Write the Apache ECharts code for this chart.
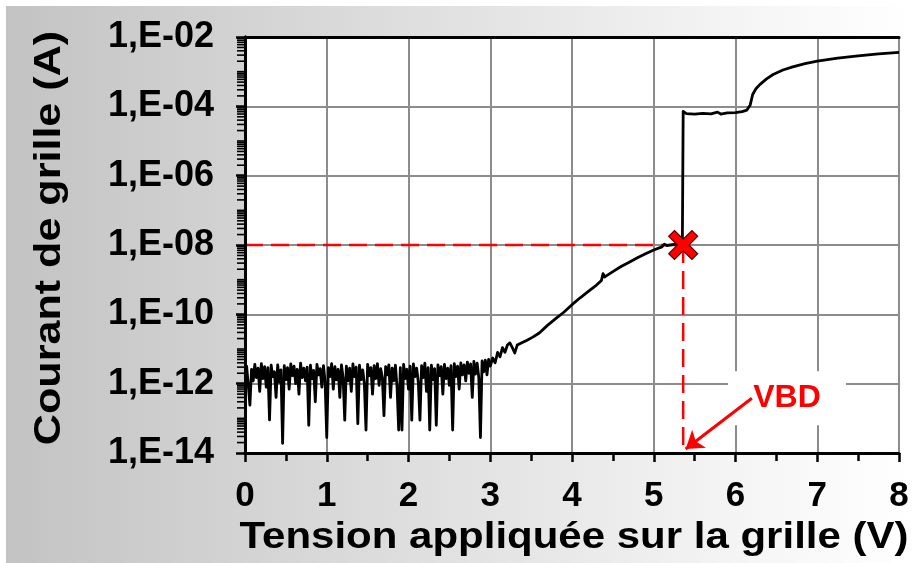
<!DOCTYPE html>
<html>
<head>
<meta charset="utf-8">
<script src="https://cdn.jsdelivr.net/npm/echarts@6.0.0/dist/echarts.min.js"></script>
<style>html,body{margin:0;padding:0;background:#fff;}#chart{width:912px;height:563px;}</style>
</head>
<body>
<div id="chart"></div>
<script>
// ---- data ----
const xTickLabels = ['0','1','2','3','4','5','6','7','8'];
const yTickLabels = ['1,E-14','1,E-12','1,E-10','1,E-08','1,E-06','1,E-04','1,E-02'];
const yTickExponents = [-14,-12,-10,-8,-6,-4,-2];

const noiseVoltage = [0.00,0.02,0.04,0.06,0.08,0.10,0.12,0.14,0.16,0.18,0.20,0.22,0.24,0.26,0.28,0.30,0.32,0.34,0.36,0.38,0.40,0.42,0.44,0.46,0.48,0.50,0.52,0.54,0.56,0.58,0.60,0.62,0.64,0.66,0.68,0.70,0.72,0.74,0.76,0.78,0.80,0.82,0.84,0.86,0.88,0.90,0.92,0.94,0.96,0.98,1.00,1.02,1.04,1.06,1.08,1.10,1.12,1.14,1.16,1.18,1.20,1.22,1.24,1.26,1.28,1.30,1.32,1.34,1.36,1.38,1.40,1.42,1.44,1.46,1.48,1.50,1.52,1.54,1.56,1.58,1.60,1.62,1.64,1.66,1.68,1.70,1.72,1.74,1.76,1.78,1.80,1.82,1.84,1.86,1.88,1.90,1.92,1.94,1.96,1.98,2.00,2.02,2.04,2.06,2.08,2.10,2.12,2.14,2.16,2.18,2.20,2.22,2.24,2.26,2.28,2.30,2.32,2.34,2.36,2.38,2.40,2.42,2.44,2.46,2.48,2.50,2.52,2.54,2.56,2.58,2.60,2.62,2.64,2.66,2.68,2.70,2.72,2.74,2.76,2.78,2.80,2.82,2.84,2.86,2.88,2.90,2.92,2.94,2.96,2.98,3.00];
const noiseCurrent = [1.8e-12,3.2e-12,9e-13,2.4e-13,2.6e-12,1.2e-12,3.6e-12,1.5e-12,2.8e-12,6e-13,3.8e-12,1.4e-12,3.1e-12,8e-13,2.9e-12,9e-14,3.4e-12,1.6e-12,2.2e-12,4e-13,3.5e-12,1.1e-12,2.5e-12,1.9e-14,3.3e-12,1.3e-12,2.9e-12,7e-13,3.7e-12,1.7e-12,3.2e-12,1e-12,2.6e-12,5e-13,3.9e-12,1.5e-12,2.8e-12,1.2e-12,3e-12,6.3e-14,3.4e-12,1.4e-12,2.4e-12,3e-13,3.6e-12,1.8e-12,2.7e-12,8e-13,3.3e-12,1.1e-12,2.8e-14,2.9e-12,1.6e-12,3.8e-12,7e-13,3.1e-12,1.3e-12,2.6e-12,4e-13,3.5e-12,1.5e-12,8.9e-14,3.2e-12,1.2e-12,2.8e-12,6e-13,3.7e-12,1.6e-12,3e-12,7e-14,3.4e-12,1.3e-12,2.5e-12,1e-12,4.6e-14,3.6e-12,1.7e-12,2.9e-12,5e-13,3.3e-12,1.4e-12,3.8e-12,9e-13,2.7e-12,1.5e-12,1.2e-13,3.1e-12,1.8e-12,3.5e-12,4e-13,2.8e-12,1.2e-12,3.4e-12,8e-13,4.6e-14,2.9e-12,4.6e-14,3.6e-12,1.4e-12,2.6e-12,7e-13,3.2e-12,8.9e-14,3.7e-12,1.6e-12,2.8e-12,1.1e-12,8.9e-14,3.3e-12,1.5e-12,3.9e-12,6e-13,2.9e-12,4.6e-14,3.4e-12,1.3e-12,2.7e-12,6.3e-14,3.5e-12,1.7e-12,3.1e-12,5e-13,3.6e-12,1.4e-12,2.8e-12,9e-13,3.3e-12,4.6e-14,3.8e-12,1.6e-12,3.2e-12,7e-13,4e-12,1.8e-12,3.5e-12,1.2e-12,4.2e-12,2e-12,3.7e-12,4e-13,4.4e-12,1.9e-12,3.9e-12,1.5e-12,2.8e-14,4.5e-12,2.2e-12,4.8e-12,1.8e-12,5e-12,3.2e-12];

const riseVoltage = [3.03,3.06,3.09,3.12,3.15,3.18,3.21,3.24,3.27,3.30,3.33,3.38,3.45,3.52,3.60,3.70,3.80,3.90,4.00,4.10,4.20,4.30,4.36,4.38,4.40,4.50,4.60,4.70,4.80,4.90,5.00,5.10,5.13,5.16,5.25,5.35];
const riseCurrent = [5.5e-12,4e-12,8e-12,6e-12,1.1e-11,8e-12,1.3e-11,1.5e-11,1.1e-11,7.7e-12,1.3e-11,1.5e-11,1.8e-11,2.2e-11,2.9e-11,4.8e-11,7.5e-11,1.15e-10,1.9e-10,3e-10,4.6e-10,7e-10,9.5e-10,1.5e-9,1.2e-9,1.7e-9,2.4e-9,3.2e-9,4.3e-9,5.6e-9,7.2e-9,8.8e-9,1.05e-8,9.6e-9,1.05e-8,1.15e-8];

const postVoltage = [5.36,5.40,5.50,5.60,5.70,5.78,5.82,5.90,6.00,6.08,6.14,6.18,6.21,6.25,6.30,6.38,6.46,6.58,6.70,6.85,7.00,7.25,7.50,7.75,8.00];
const postCurrent = [7.2e-5,6.2e-5,6.0e-5,6.3e-5,6.1e-5,6.8e-5,6.0e-5,6.5e-5,6.6e-5,7.0e-5,7.8e-5,1.1e-4,2.2e-4,3.2e-4,4.3e-4,6.2e-4,8.3e-4,1.12e-3,1.38e-3,1.7e-3,2.0e-3,2.45e-3,2.85e-3,3.25e-3,3.6e-3];

const breakdownVoltage = 5.36;
const breakdownCurrent = 1e-8;
const vbdLabel = 'VBD';
const vbdLabelPoint = [6.63, 3.8e-13];
const vbdArrowStart = [6.2, 3.8e-13];
const vbdArrowEnd = [5.39, 1.3e-14];
const xTitle = 'Tension appliquée sur la grille (V)';
const yTitle = 'Courant de grille (A)';

// ---- build ----
const allVoltage = noiseVoltage.concat(riseVoltage, postVoltage);
const allCurrent = noiseCurrent.concat(riseCurrent, postCurrent);
const curveData = allVoltage.map((v, i) => [v, allCurrent[i]]);

// log minor ticks on the y axis (2..9 within each decade, plus unlabeled decades)
const yMinorTicks = [];
for (let e = -14; e < -2; e++) {
  for (let k = 1; k <= 9; k++) {
    if (k === 1 && yTickExponents.indexOf(e) >= 0) continue;
    yMinorTicks.push([0, k * Math.pow(10, e)]);
  }
}

const FONT = '"Liberation Sans", Arial, sans-serif';
const grid = { left: 245, right: 13, top: 37, bottom: 110 };
const gray = '#8c8c8c';

const borderAxisX = (pos) => ({
  type: 'value', min: 0, max: 8, interval: 1, position: pos, z: 3,
  axisLine: { show: true, lineStyle: { color: '#000', width: 3 } },
  axisTick: { show: false }, axisLabel: { show: false }, splitLine: { show: false }
});
const borderAxisY = (pos) => ({
  type: 'log', min: 1e-14, max: 1e-2, interval: 2, position: pos, z: 3,
  axisLine: { show: true, lineStyle: { color: '#000', width: 3 } },
  axisTick: { show: false }, axisLabel: { show: false }, splitLine: { show: false }
});

const chart = echarts.init(document.getElementById('chart'), null, { renderer: 'canvas' });
const option = {
  animation: false,
  backgroundColor: '#ffffff',
  graphic: {
    elements: [
      {
        type: 'rect', z: -100, silent: true,
        shape: { x: 6, y: 6, width: 906, height: 557 },
        style: {
          fill: {
            type: 'linear', x: 0, y: 0, x2: 1, y2: 0,
            colorStops: [
              { offset: 0, color: '#c3c3c3' },
              { offset: 0.85, color: '#f7f7f7' },
              { offset: 1, color: '#ffffff' }
            ]
          }
        }
      },
      {
        type: 'text', x: 574, y: 538, scaleX: 1.135, z: 10,
        style: {
          text: xTitle, font: 'bold 37px ' + FONT, fill: '#000',
          textAlign: 'center', textVerticalAlign: 'middle', align: 'center', verticalAlign: 'middle'
        }
      },
      {
        type: 'text', x: 50, y: 238, rotation: Math.PI / 2, scaleX: 1.165, z: 10,
        style: {
          text: yTitle, font: 'bold 37px ' + FONT, fill: '#000',
          textAlign: 'center', textVerticalAlign: 'middle', align: 'center', verticalAlign: 'middle'
        }
      }
    ]
  },
  grid: Object.assign({ show: true, backgroundColor: '#ffffff', borderWidth: 0, containLabel: false }, grid),
  xAxis: [
    {
      type: 'value', min: 0, max: 8, interval: 1, position: 'bottom',
      axisLine: { show: false },
      axisTick: { show: true, length: 9, lineStyle: { color: '#000', width: 2.5 } },
      minorTick: { show: true, splitNumber: 2, length: 8, lineStyle: { color: '#000', width: 2.5 } },
      splitLine: { show: true, lineStyle: { color: gray, width: 2 } },
      axisLabel: {
        margin: 26, color: '#000', fontSize: 35, fontWeight: 'bold', fontFamily: FONT,
        formatter: (v) => xTickLabels[Math.round(v)]
      }
    },
    borderAxisX('bottom'),
    borderAxisX('top')
  ],
  yAxis: [
    {
      type: 'log', logBase: 10, min: 1e-14, max: 1e-2, interval: 2, position: 'left',
      axisLine: { show: false },
      axisTick: { show: true, length: 9, lineStyle: { color: '#000', width: 2.5 } },
      splitLine: { show: true, lineStyle: { color: gray, width: 2 } },
      axisLabel: {
        margin: 31, color: '#000', fontSize: 36, fontWeight: 'bold', fontFamily: FONT,
        formatter: (v) => {
          const e = Math.round(Math.log10(v));
          const i = yTickExponents.indexOf(e);
          return i >= 0 ? yTickLabels[i] : '';
        }
      }
    },
    borderAxisY('left'),
    borderAxisY('right')
  ],
  series: [
    {
      type: 'custom', name: 'yMinorTicks', clip: false, silent: true, z: 4,
      xAxisIndex: 0, yAxisIndex: 0,
      data: yMinorTicks,
      renderItem: (params, api) => {
        const p = api.coord([api.value(0), api.value(1)]);
        return {
          type: 'line',
          shape: { x1: p[0] - 8, y1: p[1], x2: p[0], y2: p[1] },
          style: { stroke: '#000', lineWidth: 1.6 }
        };
      }
    },
    {
      type: 'line', name: 'vbdH', z: 2, silent: true, symbol: 'none',
      data: [[0, breakdownCurrent], [breakdownVoltage, breakdownCurrent]],
      lineStyle: { color: '#ff0000', width: 2.5, type: [18, 8] }
    },
    {
      type: 'line', name: 'vbdV', z: 2, silent: true, symbol: 'none',
      data: [[breakdownVoltage, breakdownCurrent], [breakdownVoltage, 1e-14]],
      lineStyle: { color: '#ff0000', width: 2.5, type: [18, 8] }
    },
    {
      type: 'line', name: 'Ig', z: 3, silent: true, symbol: 'none', showSymbol: false,
      data: curveData,
      lineStyle: { color: '#000', width: 2.8, join: 'round' }
    },
    {
      type: 'scatter', name: 'breakdown', z: 5, silent: true,
      data: [[breakdownVoltage, breakdownCurrent]],
      symbol: 'path://M2,0 L5,3 L8,0 L10,2 L7,5 L10,8 L8,10 L5,7 L2,10 L0,8 L3,5 L0,2 Z',
      symbolSize: 29,
      itemStyle: { color: '#ff0000', borderColor: '#5a0000', borderWidth: 1.2, opacity: 1 }
    },
    {
      type: 'scatter', name: 'annotation', z: 6, silent: true, data: [],
      markPoint: {
        z: 6, silent: true, animation: false,
        symbol: 'rect', symbolSize: [118, 54],
        itemStyle: { color: '#ffffff' },
        label: {
          show: true, position: 'inside', formatter: vbdLabel,
          color: '#ff0000', fontSize: 32, fontWeight: 'bold', fontFamily: FONT
        },
        data: [{ coord: vbdLabelPoint }]
      },
      markLine: {
        z: 7, silent: true, animation: false,
        symbol: ['none', 'arrow'], symbolSize: 17,
        label: { show: false },
        lineStyle: { color: '#ff0000', width: 3, type: 'solid' },
        data: [[{ coord: vbdArrowStart }, { coord: vbdArrowEnd }]]
      }
    }
  ]
};
chart.setOption(option);
</script>
</body>
</html>
